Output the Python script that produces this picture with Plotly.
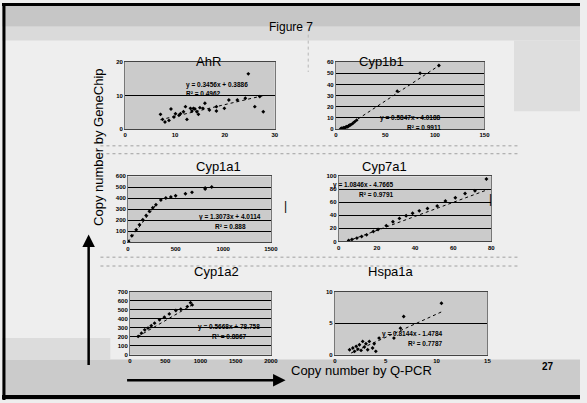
import plotly.graph_objects as go

W, H = 587, 403

# ---------------- data ----------------
fig_title = "Figure 7"
x_axis_label = "Copy number by Q-PCR"
y_axis_label = "Copy number by GeneChip"
slide_number = "27"

gene_names = ["AhR", "Cyp1b1", "Cyp1a1", "Cyp7a1", "Cyp1a2", "Hspa1a"]

ahr_x = [7.1, 7.5, 8.0, 8.8, 9.2, 9.8, 10.1, 10.8, 11.1, 11.7, 12.1, 12.4, 13.1, 13.4, 13.7, 14.0,
         14.4, 14.7, 15.0, 15.6, 16.0, 16.9, 18.3, 18.3, 19.9, 20.8, 22.5, 24.1, 24.7, 26.0, 27.0, 27.7]
ahr_y = [4.4, 2.9, 2.1, 2.6, 6.0, 3.6, 4.6, 4.1, 4.6, 5.2, 6.7, 2.9, 6.2, 5.4, 6.2, 6.0,
         5.2, 4.4, 6.4, 6.2, 7.7, 5.7, 5.4, 6.7, 6.2, 8.7, 8.7, 9.2, 16.5, 6.7, 9.7, 5.2]
ahr_trend_x = [7.1, 27.7]
ahr_trend_y = [2.8, 10.0]

cyp1b1_x = [5, 6, 7, 8, 9, 10, 11, 12, 13, 14, 15, 17, 19, 21, 62, 85, 104]
cyp1b1_y = [0.3, 0.8, 0.5, 1.2, 1.0, 1.8, 2.2, 2.0, 3.0, 3.5, 3.8, 5.0, 6.5, 8.0, 34, 50, 57]
cyp1b1_trend_x = [7, 105]
cyp1b1_trend_y = [0.1, 57.4]

cyp1a1_x = [5, 40, 86, 120, 155, 190, 224, 260, 293, 345, 397, 450, 500, 603, 672, 810, 810, 879]
cyp1a1_y = [9, 60, 115, 160, 206, 245, 282, 315, 342, 385, 403, 412, 424, 442, 455, 485, 494, 503]
cyp1a1_trend_x = [0, 300]
cyp1a1_trend_y = [5, 350]

cyp7a1_x = [5.2, 6.9, 9.5, 12.0, 14.6, 18.1, 20.6, 24.9, 28.4, 31.8, 35.3, 38.7, 42.2, 46.5,
            51.6, 55.9, 61.1, 66.2, 71.4, 77.4]
cyp7a1_y = [1.5, 3.0, 5.1, 7.6, 10.1, 15.2, 18.2, 24.2, 30.3, 35.4, 39.4, 43.4, 47.0, 50.5,
            54.5, 62.1, 67.2, 73.7, 77.8, 96.0]
cyp7a1_trend_x = [4.3, 78.3]
cyp7a1_trend_y = [0, 79.8]

cyp1a2_x = [116, 163, 209, 256, 302, 349, 419, 488, 558, 651, 721, 814, 884, 860]
cyp1a2_y = [203, 239, 276, 295, 321, 350, 387, 416, 453, 490, 505, 534, 553, 578]
cyp1a2_trend_x = [116, 884]
cyp1a2_trend_y = [203, 553]

hspa1a_x = [1.45, 1.77, 1.94, 2.10, 2.26, 2.42, 2.58, 2.74, 2.90, 3.06, 3.23, 3.39, 3.71, 3.87,
            4.35, 5.81, 6.45, 6.77, 10.48, 4.03]
hspa1a_y = [0.79, 1.05, 0.53, 1.32, 0.89, 1.58, 0.68, 2.11, 1.21, 1.74, 0.79, 2.11, 1.05, 1.74,
            2.63, 2.63, 4.21, 6.05, 8.16, 0.53]
hspa1a_trend_x = [1.6, 10.5]
hspa1a_trend_y = [0.26, 6.8]

equations = ["y = 0.3456x + 0.3886", "y = 0.5847x - 4.0188", "y = 1.3073x + 4.0114",
             "y = 1.0846x - 4.7665", "y = 0.5668x + 78.758", "y = 0.8144x - 1.4784"]
r_squared = ["R² = 0.4962", "R² = 0.9911", "R² = 0.888", "R² = 0.9791", "R² = 0.8867", "R² = 0.7787"]

series_x = [ahr_x, cyp1b1_x, cyp1a1_x, cyp7a1_x, cyp1a2_x, hspa1a_x]
series_y = [ahr_y, cyp1b1_y, cyp1a1_y, cyp7a1_y, cyp1a2_y, hspa1a_y]
trend_x = [ahr_trend_x, cyp1b1_trend_x, cyp1a1_trend_x, cyp7a1_trend_x, cyp1a2_trend_x, hspa1a_trend_x]
trend_y = [ahr_trend_y, cyp1b1_trend_y, cyp1a1_trend_y, cyp7a1_trend_y, cyp1a2_trend_y, hspa1a_trend_y]

x_ranges = [[0, 30], [0, 150], [0, 1500], [0, 80], [0, 2000], [0, 15]]
y_ranges = [[0, 20], [0, 60], [0, 600], [0, 100], [0, 700], [0, 10]]
x_dticks = [10, 50, 500, 20, 500, 5]
y_dticks = [10, 10, 100, 20, 100, 5]

# ---------------- layout (pixels) ----------------
boxes = [(125, 277, 60, 128), (339, 490, 60, 128), (128, 273, 176, 243),
         (342, 497, 176, 242), (130, 273, 293, 357), (338, 493, 293, 357)]
title_pos = [(195, 50), (410, 50), (195, 166), (413, 166), (193, 282), (420, 282)]
# (x centre, y of equation) in pixels
eq_pos = [(185, 77), (448, 111), (232, 217), (400, 185), (231, 335), (450, 342)]


def fx(p):
    return p / W


def fy(p):
    return 1 - p / H


FONT = "Liberation Sans, Arial, sans-serif"
fig = go.Figure()
annotations = []
shapes = []


def rect(x0, y0, x1, y1, color, layer="below"):
    shapes.append(dict(type="rect", xref="paper", yref="paper", x0=fx(x0), x1=fx(x1),
                       y0=fy(y1), y1=fy(y0), fillcolor=color, line=dict(width=0), layer=layer))


def hline(y, x0, x1, color, width=1, dash="dot"):
    shapes.append(dict(type="line", xref="paper", yref="paper", x0=fx(x0), x1=fx(x1),
                       y0=fy(y), y1=fy(y), line=dict(color=color, width=width, dash=dash),
                       layer="below"))


# slide background bands
rect(0, 0, 587, 403, "#eeeeee")
rect(0, 0, 587, 24, "#c6c6c6")
rect(0, 24, 587, 38, "#dadada")
rect(520, 38, 587, 110, "#dedede")
rect(0, 362, 587, 403, "#cbcbcb")
rect(0, 340, 110, 362, "#dcdcdc")

# faint dotted separators between chart rows
for yy in (145, 153, 258, 267):
    hline(yy, 100, 525, "#a0a0a0")
shapes.append(dict(type="line", xref="paper", yref="paper", x0=fx(311), x1=fx(311),
                   y0=fy(26), y1=fy(70), line=dict(color="#b8b8b8", width=1, dash="dot"),
                   layer="below"))

# slide border
shapes.append(dict(type="line", xref="paper", yref="paper", x0=0, x1=1, y0=fy(1.5), y1=fy(1.5),
                   line=dict(color="black", width=3)))
shapes.append(dict(type="line", xref="paper", yref="paper", x0=fx(2), x1=fx(2), y0=0, y1=1,
                   line=dict(color="black", width=3)))
shapes.append(dict(type="line", xref="paper", yref="paper", x0=0, x1=1, y0=fy(400), y1=fy(400),
                   line=dict(color="black", width=4)))

layout_axes = {}
for i in range(6):
    n = "" if i == 0 else str(i + 1)
    x0, x1, y0, y1 = boxes[i]
    layout_axes[f"xaxis{n}"] = dict(
        domain=[fx(x0), fx(x1)], range=x_ranges[i], dtick=x_dticks[i], tick0=0,
        anchor=f"y{n}", showgrid=False, zeroline=False, showline=True, linecolor="#444444",
        linewidth=1, mirror=True, ticks="", ticklen=0,
        tickfont=dict(size=6, family=FONT, color="black", weight="bold"))
    layout_axes[f"yaxis{n}"] = dict(
        domain=[fy(y1), fy(y0)], range=y_ranges[i], dtick=y_dticks[i], tick0=0,
        anchor=f"x{n}", showgrid=True, gridcolor="black", gridwidth=1, zeroline=False,
        showline=True, linecolor="#777777", linewidth=1, mirror=True, ticks="", ticklen=0,
        tickfont=dict(size=6, family=FONT, color="black", weight="bold"))
    # plot area background
    shapes.append(dict(type="rect", xref="paper", yref="paper", x0=fx(x0), x1=fx(x1),
                       y0=fy(y1), y1=fy(y0), fillcolor="#cbcbcb", line=dict(width=0),
                       layer="below"))
    xa = "x" + n
    ya = "y" + n
    fig.add_trace(go.Scatter(x=trend_x[i], y=trend_y[i], mode="lines", xaxis=xa, yaxis=ya,
                             line=dict(color="black", width=1, dash="dot"), showlegend=False,
                             hoverinfo="skip"))
    fig.add_trace(go.Scatter(x=series_x[i], y=series_y[i], mode="markers", xaxis=xa, yaxis=ya,
                             marker=dict(color="black", size=3, symbol="diamond"),
                             showlegend=False))
    tx, ty = title_pos[i]
    annotations.append(dict(text=gene_names[i], x=fx(tx), y=fy(ty), xref="paper", yref="paper",
                            showarrow=False, font=dict(size=13, family=FONT, color="black")))
    ex, ey = eq_pos[i]
    annotations.append(dict(text=equations[i], x=fx(ex), y=fy(ey), xref="paper",
                            yref="paper", showarrow=False,
                            font=dict(size=6.5, family=FONT, color="black", weight="bold")))
    annotations.append(dict(text=r_squared[i], x=fx(ex), y=fy(ey + 9.5), xref="paper",
                            yref="paper", showarrow=False,
                            font=dict(size=6.5, family=FONT, color="black", weight="bold")))

# figure title
annotations.append(dict(text=fig_title, x=fx(293), y=fy(15), xref="paper", yref="paper",
                        showarrow=False, font=dict(size=12, family=FONT, color="black")))
# vertical axis label and arrow
annotations.append(dict(text=y_axis_label, x=fx(89), y=fy(146), xref="paper", yref="paper",
                        showarrow=False, textangle=-90,
                        font=dict(size=13, family=FONT, color="black")))
annotations.append(dict(text="", x=fx(88), y=fy(235), ax=0, ay=132, xref="paper",
                        yref="paper", axref="pixel", ayref="pixel", showarrow=True,
                        arrowhead=2, arrowsize=1, arrowwidth=2.5, arrowcolor="black"))
# horizontal axis label and arrow
annotations.append(dict(text="", x=fx(288), y=fy(383), ax=-160, ay=0, xref="paper",
                        yref="paper", axref="pixel", ayref="pixel", showarrow=True,
                        arrowhead=2, arrowsize=1, arrowwidth=2.5, arrowcolor="black"))
annotations.append(dict(text=x_axis_label, x=fx(291), y=fy(383), xref="paper", yref="paper",
                        xanchor="left", showarrow=False,
                        font=dict(size=13, family=FONT, color="black")))
# slide number
annotations.append(dict(text=slide_number, x=fx(563), y=fy(377), xref="paper", yref="paper",
                        showarrow=False,
                        font=dict(size=10, family=FONT, color="black", weight="bold")))
# stray scan marks
for mx, my in ((288, 206), (500, 199)):
    annotations.append(dict(text="|", x=fx(mx), y=fy(my), xref="paper", yref="paper",
                            showarrow=False, font=dict(size=12, family=FONT, color="black")))

fig.update_layout(width=W, height=H, margin=dict(l=0, r=0, t=0, b=0),
                  paper_bgcolor="#eeeeee", plot_bgcolor="rgba(0,0,0,0)",
                  annotations=annotations, shapes=shapes, showlegend=False, **layout_axes)

fig.write_html("out.html")
